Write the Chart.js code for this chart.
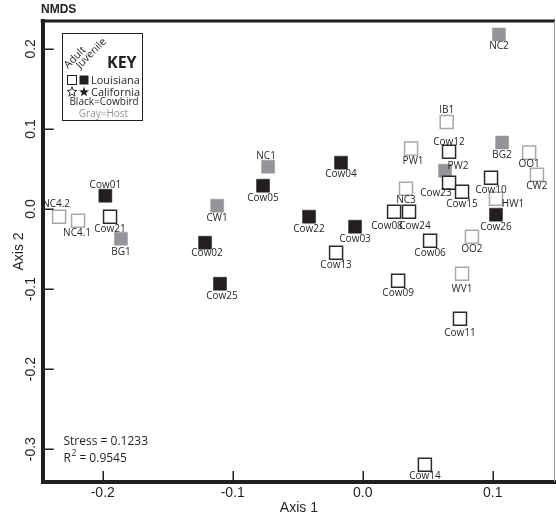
<!DOCTYPE html>
<html>
<head>
<meta charset="utf-8">
<script src="https://cdn.jsdelivr.net/npm/chart.js@4"></script>
<style>
html,body{margin:0;padding:0;background:#fff;}
#wrap{width:556px;height:520px;position:relative;}
</style>
</head>
<body>
<div id="wrap"><canvas id="c" width="556" height="520"></canvas></div>
<script>
// ---- data ----
const adultCowbirdNames = ['Cow21','Cow13','Cow08','Cow24','Cow12','Cow23','Cow15','Cow10','Cow06','Cow09','Cow11','Cow14'];
const adultCowbirdX = [-0.1944,-0.0205,0.0241,0.0356,0.0664,0.0664,0.0764,0.0987,0.0518,0.0272,0.0748,0.0478];
const adultCowbirdY = [-0.0096,-0.0546,-0.0034,-0.0034,0.0716,0.0329,0.0216,0.0391,-0.0396,-0.0896,-0.1371,-0.3196];

const juvenileCowbirdNames = ['Cow01','Cow02','Cow25','Cow05','Cow04','Cow22','Cow03','Cow26'];
const juvenileCowbirdX = [-0.1980,-0.1213,-0.1098,-0.0767,-0.0167,-0.0413,-0.0059,0.1025];
const juvenileCowbirdY = [0.0166,-0.0421,-0.0934,0.0291,0.0579,-0.0096,-0.0221,-0.0071];

const adultHostNames = ['NC4.2','NC4.1','IB1','PW1','NC3','OO1','CW2','HW1','OO2','WV1'];
const adultHostX = [-0.2336,-0.2190,0.0646,0.0372,0.0333,0.1280,0.1340,0.1025,0.0840,0.0764];
const adultHostY = [-0.0096,-0.0146,0.1087,0.0754,0.0254,0.0704,0.0429,0.0129,-0.0346,-0.0809];

const juvenileHostNames = ['NC2','BG1','CW1','NC1','BG2','PW2'];
const juvenileHostX = [0.1048,-0.1860,-0.1120,-0.0728,0.1072,0.0633];
const juvenileHostY = [0.2180,-0.0371,0.0041,0.0529,0.0829,0.0479];

const xTicks = [-0.2,-0.1,0.0,0.1];
const yTicks = [0.2,0.1,0.0,-0.1,-0.2,-0.3];
const stressText = 'Stress = 0.1233';
const r2Value = '0.9545';

// ---- label placement (style, not data) ----
const labelOffsets = {
  'Cow01':[0,-11],'NC1':[-2,-10],'IB1':[0,-12],'Cow12':[0,-10],'NC4.2':[-3,-13],
  'PW2':[13,-4],'HW1':[17,5],'Cow23':[-13,11],'Cow08':[-7,14],'Cow24':[6,14],
  'PW1':[2,13],'BG2':[0,13],'WV1':[0,15],'Cow11':[0,14],'Cow02':[2,10],'Cow25':[2,12],
  'NC4.1':[-1,12],'BG1':[0,13],'Cow14':[0,11]
};

const BLACK = '#231f20', GRAY = '#939598', LGRAY = '#a7a9ac';

function pts(names, xs, ys){ return names.map((n,i)=>({x:xs[i], y:ys[i], name:n})); }

const R = 9.2;
const datasets = [
  {label:'Adult host', data:pts(adultHostNames,adultHostX,adultHostY), pointStyle:'rect', pointRadius:R,
   backgroundColor:'#ffffff', borderColor:LGRAY, borderWidth:1.5},
  {label:'Adult cowbird', data:pts(adultCowbirdNames,adultCowbirdX,adultCowbirdY), pointStyle:'rect', pointRadius:R,
   backgroundColor:'#ffffff', borderColor:'#2b2b2b', borderWidth:1.5},
  {label:'Juvenile host', data:pts(juvenileHostNames,juvenileHostX,juvenileHostY), pointStyle:'rect', pointRadius:R,
   backgroundColor:GRAY, borderColor:GRAY, borderWidth:0.5},
  {label:'Juvenile cowbird', data:pts(juvenileCowbirdNames,juvenileCowbirdX,juvenileCowbirdY), pointStyle:'rect', pointRadius:R,
   backgroundColor:BLACK, borderColor:BLACK, borderWidth:0.5}
];

function star(ctx, cx, cy, ro, ri){
  ctx.beginPath();
  for(let i=0;i<10;i++){
    const r = i%2===0 ? ro : ri;
    const a = -Math.PI/2 + i*Math.PI/5;
    const px = cx + r*Math.cos(a), py = cy + r*Math.sin(a);
    if(i===0) ctx.moveTo(px,py); else ctx.lineTo(px,py);
  }
  ctx.closePath();
}

const decor = {
  id:'decor',
  afterDraw(chart){
    const ctx = chart.ctx, a = chart.chartArea;
    const xs = chart.scales.x, ys = chart.scales.y;
    ctx.save();
    // top and right frame
    ctx.strokeStyle = BLACK; ctx.lineWidth = 3;
    ctx.beginPath(); ctx.moveTo(a.left-2, a.top); ctx.lineTo(a.right, a.top); ctx.stroke();
    ctx.strokeStyle = '#9a9a9a'; ctx.lineWidth = 1;
    ctx.beginPath(); ctx.moveTo(a.right-0.5, a.top); ctx.lineTo(a.right-0.5, a.bottom); ctx.stroke();
    // inward ticks
    ctx.strokeStyle = BLACK; ctx.lineWidth = 1.5;
    xs.ticks.forEach(t=>{
      const px = Math.round(xs.getPixelForValue(t.value))+0.25;
      ctx.beginPath(); ctx.moveTo(px, a.bottom); ctx.lineTo(px, a.bottom-11); ctx.stroke();
    });
    ys.ticks.forEach(t=>{
      const py = Math.round(ys.getPixelForValue(t.value))+0.25;
      ctx.beginPath(); ctx.moveTo(a.left, py); ctx.lineTo(a.left+11, py); ctx.stroke();
    });
    // y tick labels (rotated)
    ctx.fillStyle = BLACK;
    ctx.font = '14px "Liberation Sans", Arial, sans-serif';
    ctx.textAlign = 'center'; ctx.textBaseline = 'middle';
    ys.ticks.forEach(t=>{
      const py = ys.getPixelForValue(t.value);
      ctx.save(); ctx.translate(31.5, py); ctx.rotate(-Math.PI/2);
      ctx.fillText(t.value.toFixed(1), 0, 0); ctx.restore();
    });
    // NMDS title
    ctx.font = 'bold 12px "Liberation Sans", Arial, sans-serif';
    ctx.textAlign = 'left'; ctx.textBaseline = 'middle';
    ctx.fillText('NMDS', 41, 10);
    // stress text
    ctx.font = '12px "Open Sans", sans-serif';
    ctx.fillText(stressText, 63.5, 442);
    ctx.fillText('R', 63.5, 459);
    const rw = ctx.measureText('R').width;
    ctx.font = '8.5px "Open Sans", sans-serif';
    ctx.fillText('2', 63.5+rw+0.5, 454);
    const w2 = ctx.measureText('2').width;
    ctx.font = '12px "Open Sans", sans-serif';
    ctx.fillText(' = ' + r2Value, 63.5+rw+w2+0.5, 459);
    // key box
    ctx.strokeStyle = BLACK; ctx.lineWidth = 1;
    ctx.strokeRect(62.5, 33.5, 80, 87);
    ctx.font = '10.5px "Open Sans", sans-serif';
    ctx.textAlign = 'left'; ctx.textBaseline = 'alphabetic';
    ctx.save(); ctx.translate(68, 69); ctx.rotate(-Math.PI/4); ctx.fillText('Adult', 0, 0); ctx.restore();
    ctx.save(); ctx.translate(80, 69); ctx.rotate(-Math.PI/4); ctx.fillText('Juvenile', 0, 0); ctx.restore();
    ctx.font = 'bold 16px "Open Sans", sans-serif';
    ctx.textBaseline = 'middle';
    ctx.fillText('KEY', 107, 63);
    // key rows
    ctx.lineWidth = 1;
    ctx.strokeStyle = BLACK;
    ctx.strokeRect(67.5, 75.5, 9, 9);
    ctx.fillStyle = BLACK; ctx.fillRect(79.5, 75.5, 9, 9);
    ctx.font = '11px "Open Sans", sans-serif';
    ctx.fillText('Louisiana', 91, 80.5);
    star(ctx, 72, 92, 5.2, 2.2); ctx.lineWidth = 0.9; ctx.stroke();
    star(ctx, 84, 92, 5.2, 2.2); ctx.fill();
    ctx.fillText('California', 91, 92.5);
    ctx.font = '10px "Open Sans", sans-serif';
    ctx.textAlign = 'center';
    ctx.fillText('Black=Cowbird', 104, 102);
    ctx.fillStyle = GRAY;
    ctx.fillText('Gray=Host', 103.5, 114);
    ctx.restore();
  },
  afterDatasetsDraw(chart){
    const ctx = chart.ctx;
    ctx.save();
    ctx.fillStyle = BLACK;
    ctx.font = '10px "Open Sans", sans-serif';
    ctx.textAlign = 'center'; ctx.textBaseline = 'middle';
    chart.data.datasets.forEach((ds, di)=>{
      const meta = chart.getDatasetMeta(di);
      meta.data.forEach((el, i)=>{
        const n = ds.data[i].name;
        const off = labelOffsets[n] || [0,12];
        ctx.fillText(n, el.x + off[0], el.y + off[1]);
      });
    });
    ctx.restore();
  }
};

function noPad(s){ s.paddingLeft = 0; s.paddingRight = 0; s.paddingTop = 0; s.paddingBottom = 0; }

new Chart(document.getElementById('c'), {
  type:'scatter',
  data:{datasets},
  options:{
    responsive:false, animation:false, events:[],
    layout:{autoPadding:false, padding:{top:21, right:1, left:0, bottom:0}},
    plugins:{legend:{display:false}, tooltip:{enabled:false}},
    scales:{
      x:{
        type:'linear', min:-0.2462, max:0.1479,
        afterBuildTicks(s){ s.ticks = xTicks.map(v=>({value:v})); },
        afterFit(s){ s.height = 38; noPad(s); },
        grid:{display:false, drawTicks:false},
        border:{display:true, width:4, color:BLACK},
        ticks:{padding:3, color:BLACK, font:{family:'"Liberation Sans", Arial, sans-serif', size:14},
               callback:(v)=>Number(v).toFixed(1), maxRotation:0, minRotation:0, autoSkip:false},
        title:{display:true, text:'Axis 1', color:BLACK, padding:{top:0,bottom:3.6},
               font:{family:'"Liberation Sans", Arial, sans-serif', size:14}}
      },
      y:{
        type:'linear', min:-0.341, max:0.2348,
        afterBuildTicks(s){ s.ticks = yTicks.map(v=>({value:v})); },
        afterFit(s){ s.width = 42.7; noPad(s); },
        grid:{display:false, drawTicks:false},
        border:{display:true, width:4, color:BLACK},
        ticks:{display:false},
        title:{display:true, text:'Axis 2', color:BLACK, padding:{top:11,bottom:0},
               font:{family:'"Liberation Sans", Arial, sans-serif', size:14}}
      }
    }
  },
  plugins:[decor]
});
</script>
</body>
</html>
